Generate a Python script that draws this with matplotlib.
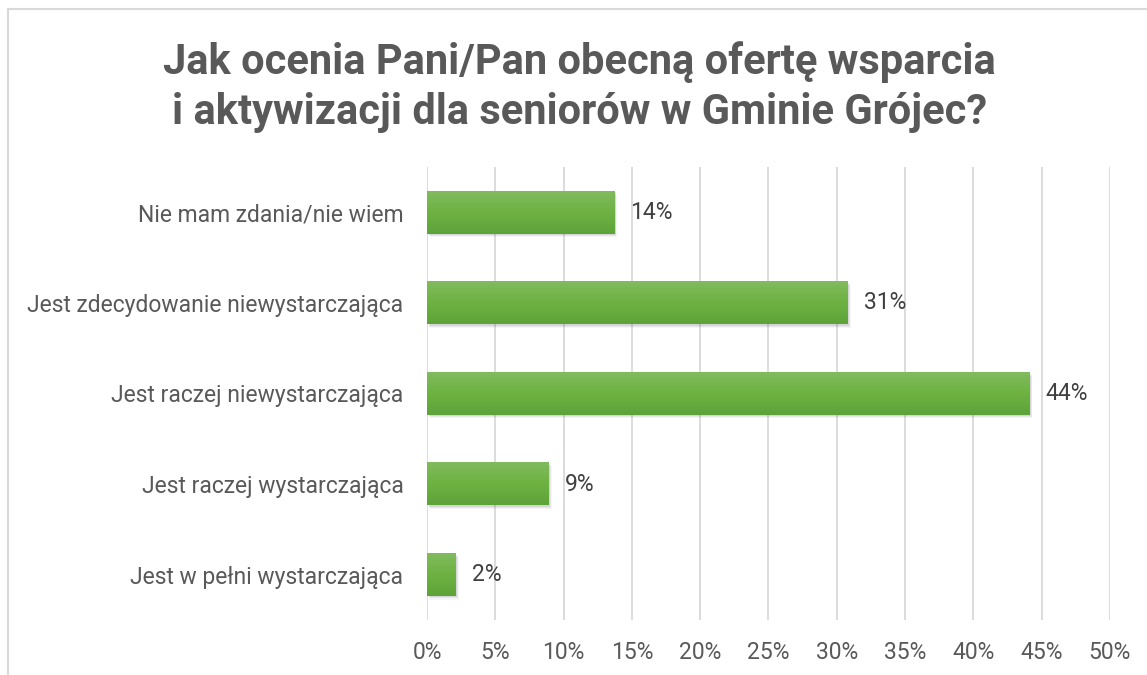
import matplotlib.pyplot as plt
import numpy as np
from matplotlib.colors import LinearSegmentedColormap
from matplotlib.patches import Rectangle
from matplotlib.lines import Line2D

# Data (top to bottom)
categories = ['Nie mam zdania/nie wiem',
              'Jest zdecydowanie niewystarczająca',
              'Jest raczej niewystarczająca',
              'Jest raczej wystarczająca',
              'Jest w pełni wystarczająca']
values = [13.7, 30.8, 44.1, 8.9, 2.1]
labels = ['14%', '31%', '44%', '9%', '2%']
xticks = [0, 5, 10, 15, 20, 25, 30, 35, 40, 45, 50]

title = 'Jak ocenia Pani/Pan obecną ofertę wsparcia\ni aktywizacji dla seniorów w Gminie Grójec?'

plt.rcParams['font.family'] = ['Roboto', 'DejaVu Sans']

fig = plt.figure(figsize=(11.47, 6.75), dpi=100)
ax = fig.add_axes([0.3723, 0.0815, 0.5954, 0.6711])

ypos = np.arange(len(categories))
bar_h = 0.47
green = LinearSegmentedColormap.from_list('g', ['#82bb5e', '#6db241', '#5ea33a'])
grad = np.linspace(0, 1, 64).reshape(-1, 1)

for y, v, lab in zip(ypos, values, labels):
    # soft shadow under the bar
    for k, a in enumerate([0.10, 0.07, 0.05]):
        off = 0.015 + k * 0.012
        ax.add_patch(Rectangle((0.12 + k * 0.05, y - bar_h / 2 + off), v, bar_h,
                               facecolor='#404040', edgecolor='none', alpha=a, zorder=2))
    ax.imshow(grad, cmap=green, aspect='auto', zorder=3,
              extent=[0, v, y + bar_h / 2, y - bar_h / 2])
    ax.text(v + 1.2, y, lab, va='center', ha='left',
            fontsize=16.5, color='#404040', zorder=4)

ax.set_xlim(0, 50)
ax.set_ylim(len(categories) - 0.5, -0.5)
ax.set_xticks(xticks)
ax.set_xticklabels([f'{t}%' for t in xticks])
ax.set_yticks(ypos)
ax.set_yticklabels(categories)
ax.tick_params(axis='both', length=0, labelsize=16.5, labelcolor='#595959')
ax.tick_params(axis='x', pad=15)
ax.tick_params(axis='y', pad=17)
ax.grid(axis='x', color='#d9d9d9', linewidth=1.3, zorder=0)
ax.set_axisbelow(True)
for s in ax.spines.values():
    s.set_visible(False)

fig.text(0.505, 0.871, title, ha='center', va='center', fontsize=30,
         fontweight='bold', color='#595959', linespacing=1.28)

# chart area border (top and left visible)
fig.add_artist(Line2D([0.007, 1.0], [0.987, 0.987], color='#d9d9d9', linewidth=1.5))
fig.add_artist(Line2D([0.007, 0.007], [0.0, 0.987], color='#d9d9d9', linewidth=1.5))

fig.savefig('out.png', dpi=100)
